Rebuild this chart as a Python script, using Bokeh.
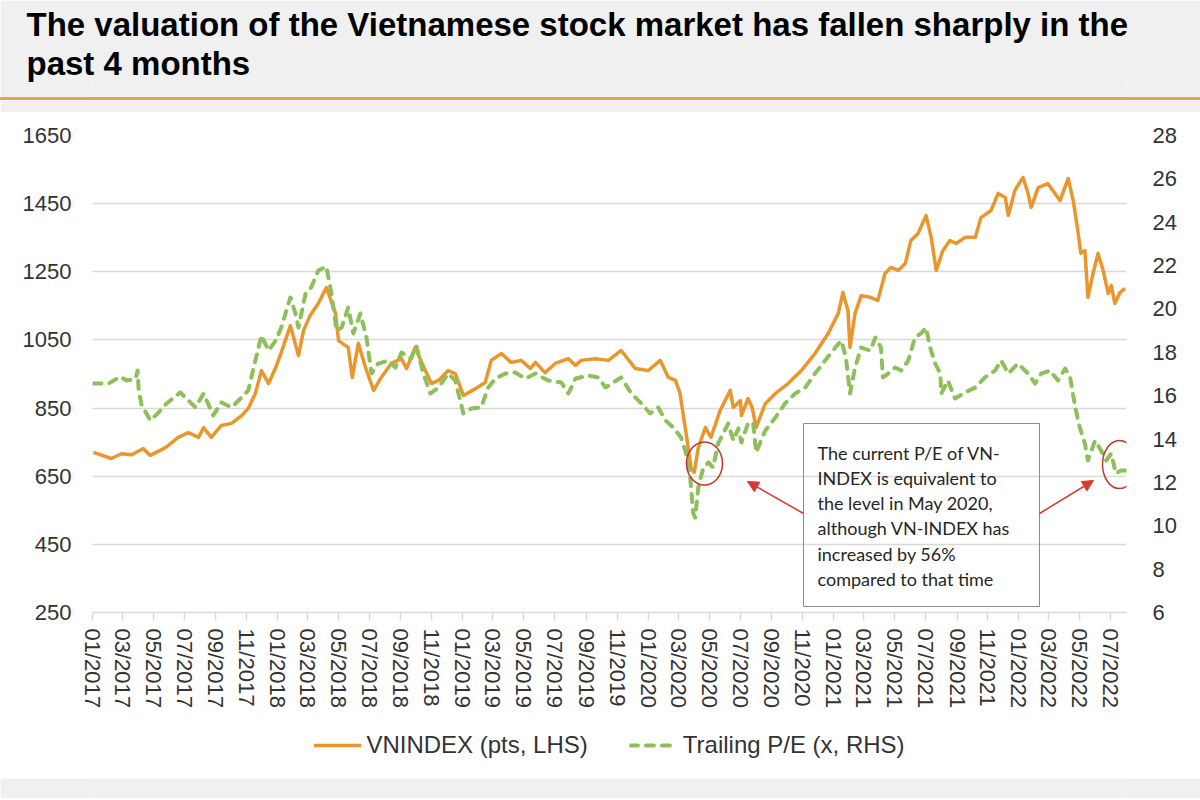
import pandas as pd
from bokeh.plotting import figure
from bokeh.models import (Range1d, LinearAxis, FixedTicker, Legend, LegendItem, Title, Div,
                          BoxAnnotation, Arrow, NormalHead, ColumnDataSource)
from bokeh.layouts import column
from bokeh.embed import file_html
from bokeh.resources import INLINE
from bokeh.core.properties import value

# ---------------- data ----------------
title_lines = ["The valuation of the Vietnamese stock market has fallen sharply in the",
               "past 4 months"]
series_names = ["VNINDEX (pts, LHS)", "Trailing P/E (x, RHS)"]

vn_dates = [
    "2017-01-03", "2017-02-07", "2017-02-27", "2017-03-19", "2017-04-11", "2017-04-25", "2017-05-25",
    "2017-06-19", "2017-07-09", "2017-07-29", "2017-08-08", "2017-08-23", "2017-09-12", "2017-10-02",
    "2017-10-22", "2017-11-04", "2017-11-18", "2017-11-30", "2017-12-14", "2017-12-28",
    "2018-01-08", "2018-01-26", "2018-02-11", "2018-02-21", "2018-03-06", "2018-03-22", "2018-04-07",
    "2018-04-25", "2018-05-01", "2018-05-14", "2018-05-20", "2018-05-28", "2018-06-09", "2018-06-23",
    "2018-07-09", "2018-07-24", "2018-08-13", "2018-09-02", "2018-09-12", "2018-09-29", "2018-10-19",
    "2018-10-31", "2018-11-14", "2018-12-03", "2018-12-17",
    "2019-01-02", "2019-01-26", "2019-02-14", "2019-02-26", "2019-03-18", "2019-04-06", "2019-04-26",
    "2019-05-14", "2019-05-24", "2019-06-12", "2019-07-02", "2019-07-28", "2019-08-11", "2019-08-22",
    "2019-09-19", "2019-10-15", "2019-11-09", "2019-12-07",
    "2020-01-01", "2020-01-25", "2020-02-10", "2020-02-24", "2020-03-04", "2020-03-16", "2020-03-26",
    "2020-04-01", "2020-04-09", "2020-04-23", "2020-05-04", "2020-05-22", "2020-06-11", "2020-06-17",
    "2020-07-01", "2020-07-03", "2020-07-16", "2020-07-24", "2020-08-01", "2020-08-19", "2020-09-08",
    "2020-10-03", "2020-10-29", "2020-11-25", "2020-12-21",
    "2021-01-10", "2021-01-19", "2021-01-29", "2021-02-02", "2021-02-12", "2021-02-24", "2021-03-14",
    "2021-03-29", "2021-04-12", "2021-04-24", "2021-05-08", "2021-05-22", "2021-06-02", "2021-06-16",
    "2021-07-02", "2021-07-12", "2021-07-22", "2021-08-04", "2021-08-18", "2021-08-30", "2021-09-17",
    "2021-10-07", "2021-10-18", "2021-11-07", "2021-11-21", "2021-12-05", "2021-12-11", "2021-12-24",
    "2022-01-09", "2022-01-19", "2022-01-25", "2022-02-08", "2022-02-27", "2022-03-13", "2022-03-23",
    "2022-04-08", "2022-04-18", "2022-04-27", "2022-05-03", "2022-05-11", "2022-05-17", "2022-05-27",
    "2022-06-06", "2022-06-16", "2022-06-26", "2022-07-02", "2022-07-09", "2022-07-19", "2022-07-29",
]
vn_values = [
    720, 702, 716, 713, 731, 711, 734, 764, 778, 764, 793, 764, 799, 805, 828, 849, 893, 960, 922, 969,
    1013, 1092, 1004, 1078, 1122, 1157, 1204, 1128, 1048, 1034, 1028, 940, 1040, 969, 902, 940, 981,
    995, 966, 1028, 960, 922, 931, 960, 951,
    887, 907, 925, 990, 1010, 984, 990, 966, 984, 954, 981, 995, 975, 990, 995, 990, 1019, 966,
    960, 990, 940, 931, 893, 775, 673, 661, 734, 793, 764, 843, 902, 852, 872, 828, 878, 852, 793,
    863, 893, 922, 960, 1010, 1069,
    1128, 1189, 1136, 1028, 1128, 1180, 1175, 1166, 1245, 1263, 1254, 1274, 1342, 1362, 1415, 1351,
    1254, 1312, 1342, 1333, 1351, 1351, 1409, 1430, 1480, 1468, 1415, 1489,
    1527, 1480, 1439, 1497, 1509, 1480, 1459, 1524, 1459, 1371, 1304, 1312, 1175, 1245, 1304, 1254,
    1186, 1210, 1157, 1189, 1201,
]

pe_dates = [
    "2017-01-03", "2017-02-02", "2017-02-25", "2017-03-09", "2017-03-27", "2017-03-31", "2017-04-02",
    "2017-04-08", "2017-04-25", "2017-05-11", "2017-05-27", "2017-06-23", "2017-07-09", "2017-07-23",
    "2017-08-08", "2017-08-27", "2017-09-12", "2017-10-02", "2017-10-22", "2017-11-04", "2017-11-18",
    "2017-11-30", "2017-12-14", "2017-12-28",
    "2018-01-08", "2018-01-26", "2018-02-05", "2018-02-11", "2018-02-25", "2018-03-08", "2018-03-22",
    "2018-04-07", "2018-04-17", "2018-04-27", "2018-05-07", "2018-05-20", "2018-05-30", "2018-06-13",
    "2018-06-25", "2018-07-05", "2018-07-18", "2018-08-07", "2018-08-21", "2018-09-02", "2018-09-21",
    "2018-10-01", "2018-10-15", "2018-10-29", "2018-11-14", "2018-12-03", "2018-12-17",
    "2019-01-02", "2019-01-18", "2019-02-06", "2019-02-20", "2019-03-06", "2019-03-26", "2019-04-14",
    "2019-05-04", "2019-05-24", "2019-06-18", "2019-07-14", "2019-07-28", "2019-08-11", "2019-09-05",
    "2019-09-25", "2019-10-09", "2019-11-09", "2019-11-29", "2019-12-19",
    "2020-01-05", "2020-01-21", "2020-02-04", "2020-02-20", "2020-03-06", "2020-03-16", "2020-03-24",
    "2020-03-30", "2020-04-03", "2020-04-09", "2020-04-19", "2020-04-29", "2020-05-08", "2020-05-18",
    "2020-06-07", "2020-06-17", "2020-06-27", "2020-07-03", "2020-07-16", "2020-07-26", "2020-08-01",
    "2020-08-19", "2020-09-08", "2020-09-27", "2020-10-17", "2020-11-06", "2020-11-25", "2020-12-15",
    "2021-01-04", "2021-01-16", "2021-01-25", "2021-02-02", "2021-02-12", "2021-02-24", "2021-03-14",
    "2021-03-24", "2021-04-04", "2021-04-08", "2021-04-18", "2021-05-02", "2021-05-14", "2021-05-28",
    "2021-06-10", "2021-06-22", "2021-07-02", "2021-07-10", "2021-07-20", "2021-07-30", "2021-08-01",
    "2021-08-14", "2021-08-28", "2021-09-17", "2021-10-07", "2021-10-26", "2021-11-15", "2021-11-27",
    "2021-12-11", "2021-12-30",
    "2022-01-19", "2022-02-02", "2022-02-14", "2022-03-03", "2022-03-19", "2022-04-02", "2022-04-12",
    "2022-04-22", "2022-05-01", "2022-05-11", "2022-05-17", "2022-05-31", "2022-06-12", "2022-06-22",
    "2022-07-02", "2022-07-11", "2022-07-21", "2022-07-31",
]
pe_values = [
    16.56, 16.56, 16.88, 16.70, 16.79, 17.16, 16.24, 15.55, 14.86, 15.22, 15.64, 16.15, 15.78, 15.46,
    16.10, 15.09, 15.69, 15.46, 15.92, 16.24, 17.62, 18.78, 18.08, 18.54,
    19.14, 20.53, 19.79, 19.14, 20.71, 20.99, 21.77, 21.96, 20.71, 19.00, 19.14, 20.07, 18.87, 19.79,
    18.68, 17.02, 17.48, 17.62, 17.30, 17.99, 17.71, 18.31, 17.02, 16.10, 16.38, 17.02, 16.70,
    15.18, 15.41, 15.46, 16.38, 16.79, 17.02, 17.07, 16.79, 17.02, 16.70, 16.61, 16.10, 16.79, 16.93,
    16.84, 16.38, 16.84, 16.10, 15.64,
    15.18, 15.46, 14.86, 14.53, 14.07, 13.33, 12.23, 10.57, 10.38, 11.77, 12.69, 12.92, 12.69, 13.79,
    14.72, 13.93, 14.49, 13.84, 14.72, 14.76, 13.38, 14.39, 14.99, 15.64, 16.10, 16.38, 17.02, 17.62,
    18.22, 18.54, 17.76, 16.10, 17.30, 18.22, 18.08, 18.68, 18.22, 16.84, 17.02, 17.30, 17.16, 17.62,
    18.68, 18.87, 19.14, 18.22, 17.48, 17.02, 16.10, 16.70, 15.87, 16.15, 16.38, 16.84, 17.16, 17.62,
    17.02, 17.48,
    17.02, 16.56, 17.02, 17.16, 16.70, 17.25, 16.84, 15.46, 14.53, 13.79, 13.01, 13.93, 13.47, 13.01,
    13.33, 12.41, 12.55, 12.55,
]

x_tick_labels = [
    "01/2017", "03/2017", "05/2017", "07/2017", "09/2017", "11/2017",
    "01/2018", "03/2018", "05/2018", "07/2018", "09/2018", "11/2018",
    "01/2019", "03/2019", "05/2019", "07/2019", "09/2019", "11/2019",
    "01/2020", "03/2020", "05/2020", "07/2020", "09/2020", "11/2020",
    "01/2021", "03/2021", "05/2021", "07/2021", "09/2021", "11/2021",
    "01/2022", "03/2022", "05/2022", "07/2022",
]
vn_ticks = [250, 450, 650, 850, 1050, 1250, 1450, 1650]
pe_ticks = [6, 8, 10, 12, 14, 16, 18, 20, 22, 24, 26, 28]
x_start, x_end = "2017-01-01", "2022-08-01"

note_lines = ["The current P/E of VN-", "INDEX is equivalent to", "the level in May 2020,",
              "although VN-INDEX has", "increased by 56%", "compared to that time"]

# ---------------- styles ----------------
ORANGE = "#E9972C"
GREEN = "#8DC05A"
GRID = "#D9D9D9"
RED = "#D63A32"
CIRCLE = "#C0392B"
TXT = "#333333"
BAND = "#F0F0F0"
RULE = "#EDA33F"
FONT = "Liberation Sans"

W = 1200
BAND_H, RULE_H, GAP_H = 97, 3, 12
TOP = BAND_H + RULE_H + GAP_H          # page y where chart figure starts
LEG_H, FOOT_H = 58, 20
# plot frame in page pixels
FL, FR, FT, FB = 92, 1126, 135, 612
CHART_H = 720 - TOP


def ms(s):
    return (pd.Timestamp(s) - pd.Timestamp("1970-01-01")).total_seconds() * 1000.0


X0, X1 = ms(x_start), ms(x_end)
VMIN, VMAX = vn_ticks[0], vn_ticks[-1]


def px_x(px):
    return X0 + (px - FL) / (FR - FL) * (X1 - X0)


def px_y(py):
    return VMIN + (FB - py) / (FB - FT) * (VMAX - VMIN)


def strip(height, color, **kw):
    f = figure(width=W, height=height, output_backend="svg", toolbar_location=None,
               x_range=Range1d(0, 1), y_range=Range1d(0, 1),
               x_axis_location=None, y_axis_location=None, **kw)
    f.grid.visible = False
    f.outline_line_color = None
    f.background_fill_color = color
    f.border_fill_color = color
    return f


# ---------------- title band ----------------
band = strip(BAND_H, BAND, min_border_left=0, min_border_right=0,
             min_border_top=81, min_border_bottom=0)
for txt in [title_lines[1], title_lines[0]]:      # nearest-to-frame first
    band.add_layout(Title(text=txt, align="left", offset=26 - FL, standoff=0,
                          text_font=FONT, text_font_style="bold", text_font_size="33px",
                          text_color="#000000"), "above")
rule = Div(width=W, height=RULE_H, margin=0, styles={"background-color": RULE})
gap = strip(GAP_H, BAND, min_border=0)

# ---------------- chart ----------------
p = figure(width=W, height=CHART_H, output_backend="svg", toolbar_location=None,
           x_axis_type="datetime", x_range=Range1d(X0, X1), y_range=Range1d(VMIN, VMAX),
           min_border_left=FL, min_border_right=W - FR,
           min_border_top=FT - TOP, min_border_bottom=720 - FB)
p.extra_y_ranges = {"pe": Range1d(pe_ticks[0], pe_ticks[-1])}
p.outline_line_color = None
p.background_fill_color = "white"
p.border_fill_color = "white"

p.xgrid.visible = False
p.ygrid.ticker = FixedTicker(ticks=vn_ticks)
p.ygrid.grid_line_color = GRID
p.ygrid.grid_line_width = 1.5

# left axis
ya = p.yaxis[0]
ya.ticker = FixedTicker(ticks=vn_ticks)
ya.axis_line_color = None
ya.major_tick_line_color = None
ya.minor_tick_line_color = None
ya.major_tick_out = 0
ya.major_label_standoff = 21
ya.major_label_text_font = FONT
ya.major_label_text_font_size = "22px"
ya.major_label_text_color = TXT

# right axis
ra = LinearAxis(y_range_name="pe", ticker=FixedTicker(ticks=pe_ticks))
ra.axis_line_color = None
ra.major_tick_line_color = None
ra.minor_tick_line_color = None
ra.major_tick_out = 0
ra.major_label_standoff = 26
ra.major_label_text_font = FONT
ra.major_label_text_font_size = "22px"
ra.major_label_text_color = TXT
p.add_layout(ra, "right")

# bottom axis
tick_ms = [ms(pd.to_datetime(lbl, format="%m/%Y")) for lbl in x_tick_labels]
xa = p.xaxis[0]
xa.ticker = FixedTicker(ticks=tick_ms)
xa.major_label_overrides = {t: lbl for t, lbl in zip(tick_ms, x_tick_labels)}
xa.major_label_orientation = "vertical"
xa.axis_line_color = GRID
xa.axis_line_width = 1.5
xa.major_tick_line_color = GRID
xa.major_tick_line_width = 1.5
xa.major_tick_in = 0
xa.major_tick_out = 8
xa.minor_tick_line_color = None
xa.major_label_standoff = 8
xa.major_label_text_font = FONT
xa.major_label_text_font_size = "22px"
xa.major_label_text_color = TXT

# series
vn_src = ColumnDataSource(dict(x=pd.to_datetime(vn_dates), y=vn_values))
pe_src = ColumnDataSource(dict(x=pd.to_datetime(pe_dates), y=pe_values))
VN_STYLE = dict(line_color=ORANGE, line_width=3.5, line_join="round")
PE_STYLE = dict(line_color=GREEN, line_width=4, line_dash="8 8", line_cap="round", line_join="round")
p.line("x", "y", source=vn_src, **VN_STYLE)
p.line("x", "y", source=pe_src, y_range_name="pe", **PE_STYLE)

# annotation box and text
p.add_layout(BoxAnnotation(left=px_x(803), right=px_x(1039), top=px_y(423), bottom=px_y(606),
                           fill_alpha=0, line_color="#8C8C8C", line_width=1, line_alpha=1))
p.text(x=[px_x(817)] * len(note_lines),
       y=[px_y(452 + 25.3 * i) for i in range(len(note_lines))],
       text=note_lines, text_font=value("Lato"), text_font_size="18px",
       text_baseline="middle", text_align="left", text_color="#262626")

# red ellipses
p.ellipse(x=[px_x(704), px_x(1119)], y=[px_y(463), px_y(464)], width=[36, 34], height=[43, 48],
          width_units="screen", height_units="screen", fill_alpha=0, line_color=CIRCLE, line_width=1.5)

# arrows
for (xs, ys, xe, ye) in [(803, 513, 747, 481), (1039, 513, 1093, 480)]:
    p.add_layout(Arrow(x_start=px_x(xs), y_start=px_y(ys), x_end=px_x(xe), y_end=px_y(ye),
                       line_color=RED, line_width=1.5,
                       end=NormalHead(size=11, fill_color=RED, line_color=RED, line_width=1)))

# ---------------- legend strip ----------------
lf = strip(LEG_H, "white", min_border=0)
# legend key renderers: same styling, kept outside the strip's visible range
key_src = ColumnDataSource(dict(x=[-2, -1], y=[-2, -2]))
l_vn = lf.line("x", "y", source=key_src, **VN_STYLE)
l_pe = lf.line("x", "y", source=key_src, **PE_STYLE)
legend = Legend(items=[LegendItem(label=series_names[0], renderers=[l_vn]),
                       LegendItem(label=series_names[1], renderers=[l_pe])],
                orientation="horizontal", location="top_center",
                border_line_alpha=0, background_fill_alpha=0,
                label_text_font=FONT, label_text_font_size="24px", label_text_color=TXT,
                glyph_width=48, glyph_height=20, label_standoff=5, spacing=42,
                padding=4, margin=7)
lf.add_layout(legend)
foot = strip(FOOT_H, BAND, min_border=0)

layout = column(band, rule, gap, p, lf, foot, spacing=0)
open("out.html", "w").write(file_html(layout, INLINE))
